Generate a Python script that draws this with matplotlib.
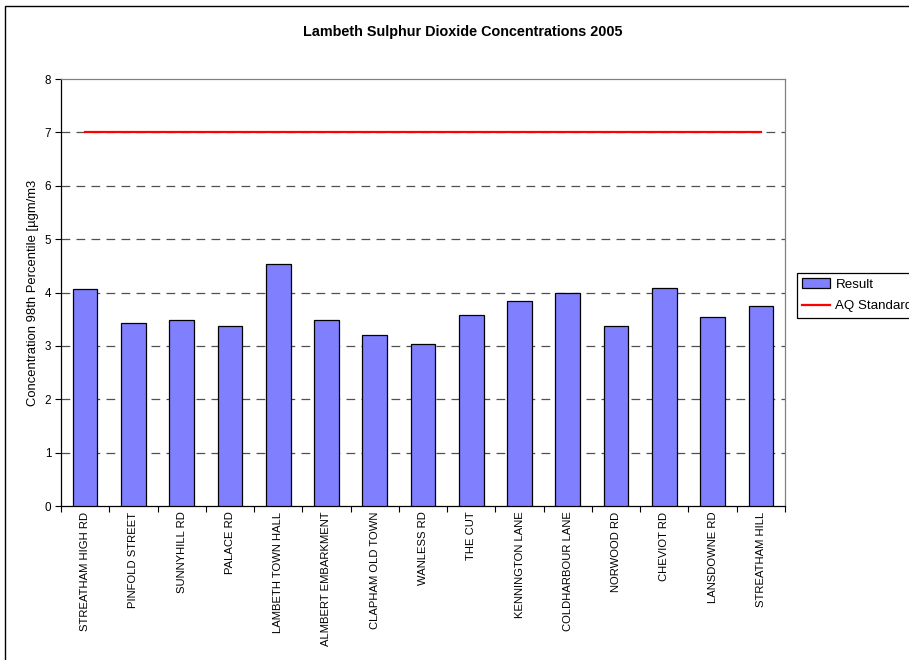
import numpy as np
import matplotlib
matplotlib.use('Agg')
import matplotlib.pyplot as plt
from matplotlib.patches import Rectangle

plt.rcParams['font.family'] = ['Liberation Sans', 'DejaVu Sans']

# Monitoring sites and 98th percentile SO2 results
sites = ['STREATHAM HIGH RD', 'PINFOLD STREET', 'SUNNYHILL RD', 'PALACE RD',
         'LAMBETH TOWN HALL', 'ALMBERT EMBARKMENT', 'CLAPHAM OLD TOWN',
         'WANLESS RD', 'THE CUT', 'KENNINGTON LANE', 'COLDHARBOUR LANE',
         'NORWOOD RD', 'CHEVIOT RD', 'LANSDOWNE RD', 'STREATHAM HILL']
result = [4.06, 3.43, 3.49, 3.37, 4.54, 3.49, 3.20, 3.03,
          3.57, 3.85, 4.00, 3.38, 4.09, 3.55, 3.75]
aq_standard = [7] * len(sites)

fs = 8.1

fig = plt.figure(figsize=(9.09, 6.6), dpi=100)
ax = fig.add_axes([0.0671, 0.2333, 0.7965, 0.647])

x = np.arange(len(sites))
bars = ax.bar(x, result, width=0.51, color='#8080FF', edgecolor='black',
              linewidth=0.9, label='Result', zorder=3)
line, = ax.plot(x, aq_standard, color='#FF0000', linewidth=1.6,
                label='AQ Standard', zorder=4)

ax.set_xlim(-0.5, len(sites) - 0.5)
ax.set_ylim(0, 8)
ax.set_yticks(range(0, 9))

# dashed gridlines for 1..7
for yv in range(1, 8):
    ax.axhline(yv, color='#505050', linewidth=0.9,
               linestyle=(0, (7, 5)), zorder=1)

ax.set_xticks(x)
ax.set_xticklabels(sites, rotation=90, fontsize=fs)
ax.set_xticks(np.arange(-0.5, len(sites)), minor=True)
ax.tick_params(axis='x', which='major', length=0, pad=4)
ax.tick_params(axis='x', which='minor', length=4, direction='out', width=0.8)
ax.tick_params(axis='y', length=4, direction='out', width=0.8,
               labelsize=8.4, pad=3)

for side in ['left', 'bottom']:
    ax.spines[side].set_color('black')
    ax.spines[side].set_linewidth(0.9)
for side in ['top', 'right']:
    ax.spines[side].set_color('#808080')
    ax.spines[side].set_linewidth(0.9)

fig.text(0.509, 1 - 32 / 660, 'Lambeth Sulphur Dioxide Concentrations 2005',
         ha='center', va='center', fontsize=10.4, fontweight='bold')
fig.text(33 / 909, 1 - 293 / 660, 'Concentration 98th Percentile [µgm/m3',
         ha='center', va='center', rotation=90, fontsize=9.4)

# legend box runs off the right edge of the chart area
leg = fig.legend([bars, line], ['Result', 'AQ Standard'],
                 loc='upper left', bbox_to_anchor=(797 / 909, 1 - 273 / 660),
                 bbox_transform=fig.transFigure, fontsize=9.6,
                 frameon=True, fancybox=False, framealpha=1,
                 edgecolor='black', borderaxespad=0, handlelength=2.1,
                 handleheight=0.7, handletextpad=0.38, labelspacing=0.7,
                 borderpad=0.4)
leg.get_frame().set_linewidth(0.9)

# chart border
fig.patches.append(Rectangle((5 / 909, -0.1), 1.2, 0.1 + 1 - 6 / 660,
                             transform=fig.transFigure, fill=False,
                             edgecolor='black', linewidth=1.0))

fig.savefig('out.png', dpi=100)
